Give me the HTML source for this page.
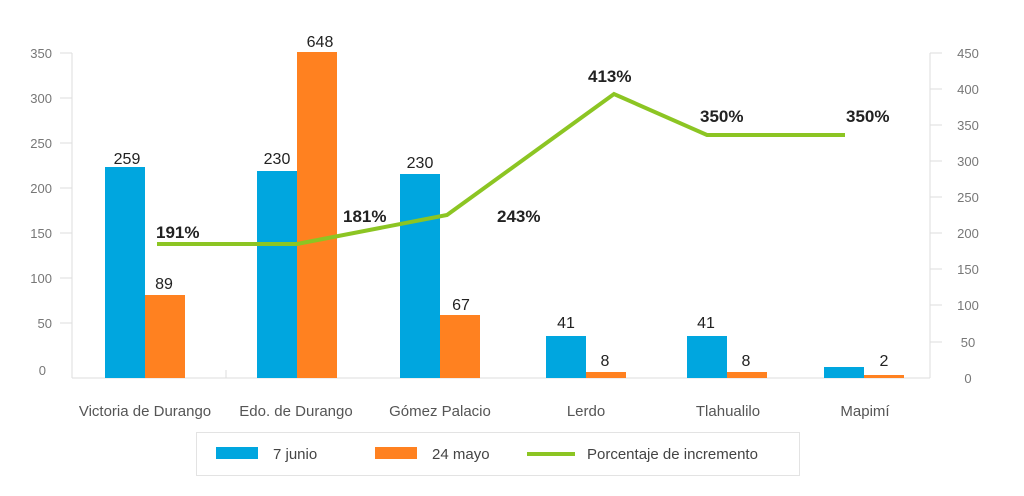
<!DOCTYPE html>
<html><head><meta charset="utf-8"><style>
body{margin:0;background:#fff;}
svg{display:block;font-family:"Liberation Sans",sans-serif;}
.ax{fill:#777;font-size:13px;}
.cat{fill:#555;font-size:15px;text-anchor:middle;}
.v{fill:#222;font-size:16px;text-anchor:middle;}
.p{fill:#222;font-size:17px;font-weight:bold;}
</style></head><body>
<svg width="1024" height="496" viewBox="0 0 1024 496">
<g stroke="#ddd" stroke-width="1">
<line x1="72" y1="53" x2="72" y2="378"/>
<line x1="72" y1="378" x2="930" y2="378"/>
<line x1="930" y1="53" x2="930" y2="378"/>
<line x1="60" y1="53" x2="72" y2="53"/><line x1="60" y1="98" x2="72" y2="98"/><line x1="60" y1="143" x2="72" y2="143"/><line x1="60" y1="188" x2="72" y2="188"/><line x1="60" y1="233" x2="72" y2="233"/><line x1="60" y1="278" x2="72" y2="278"/><line x1="60" y1="323" x2="72" y2="323"/>
<line x1="930" y1="53" x2="942" y2="53"/><line x1="930" y1="89" x2="942" y2="89"/><line x1="930" y1="125" x2="942" y2="125"/><line x1="930" y1="161" x2="942" y2="161"/><line x1="930" y1="197" x2="942" y2="197"/><line x1="930" y1="233" x2="942" y2="233"/><line x1="930" y1="269" x2="942" y2="269"/><line x1="930" y1="305" x2="942" y2="305"/><line x1="930" y1="342" x2="942" y2="342"/>
<line x1="226" y1="370" x2="226" y2="378"/>
</g>
<g class="ax" text-anchor="end">
<text x="52" y="58">350</text><text x="52" y="103">300</text><text x="52" y="148">250</text><text x="52" y="193">200</text><text x="52" y="238">150</text><text x="52" y="283">100</text><text x="52" y="328">50</text><text x="46" y="375">0</text>
</g>
<g class="ax" text-anchor="middle">
<text x="968" y="58">450</text><text x="968" y="94">400</text><text x="968" y="130">350</text><text x="968" y="166">300</text><text x="968" y="202">250</text><text x="968" y="238">200</text><text x="968" y="274">150</text><text x="968" y="310">100</text><text x="968" y="347">50</text><text x="968" y="383">0</text>
</g>
<g fill="#00a6df">
<rect x="105" y="167" width="40" height="211"/><rect x="257" y="171" width="40" height="207"/><rect x="400" y="174" width="40" height="204"/><rect x="546" y="336" width="40" height="42"/><rect x="687" y="336" width="40" height="42"/><rect x="824" y="367" width="40" height="11"/>
</g>
<g fill="#ff8120">
<rect x="145" y="295" width="40" height="83"/><rect x="297" y="52" width="40" height="326"/><rect x="440" y="315" width="40" height="63"/><rect x="586" y="372" width="40" height="6"/><rect x="727" y="372" width="40" height="6"/><rect x="864" y="375" width="40" height="3"/>
</g>
<polyline points="157,244 297,244 447,215 614,94 707,135 845,135" fill="none" stroke="#8cc523" stroke-width="4"/>
<g class="v">
<text x="127" y="164">259</text><text x="164" y="289">89</text><text x="277" y="164">230</text><text x="320" y="47">648</text><text x="420" y="168">230</text><text x="461" y="310">67</text><text x="566" y="328">41</text><text x="605" y="366">8</text><text x="706" y="328">41</text><text x="746" y="366">8</text><text x="884" y="366">2</text>
</g>
<g class="p">
<text x="156" y="238">191%</text><text x="343" y="222">181%</text><text x="497" y="222">243%</text><text x="588" y="82">413%</text><text x="700" y="122">350%</text><text x="846" y="122">350%</text>
</g>
<g class="cat">
<text x="145" y="416">Victoria de Durango</text><text x="296" y="416">Edo. de Durango</text><text x="440" y="416">Gómez Palacio</text><text x="586" y="416">Lerdo</text><text x="728" y="416">Tlahualilo</text><text x="865" y="416">Mapimí</text>
</g>
<rect x="196.5" y="432.5" width="603" height="43" fill="none" stroke="#e3e3e3"/>
<rect x="216" y="447" width="42" height="12" fill="#00a6df"/>
<text x="273" y="459" fill="#444" font-size="15">7  junio</text>
<rect x="375" y="447" width="42" height="12" fill="#ff8120"/>
<text x="432" y="459" fill="#444" font-size="15">24 mayo</text>
<line x1="527" y1="454" x2="575" y2="454" stroke="#8cc523" stroke-width="4"/>
<text x="587" y="459" fill="#444" font-size="15">Porcentaje de incremento</text>
</svg>
</body></html>
